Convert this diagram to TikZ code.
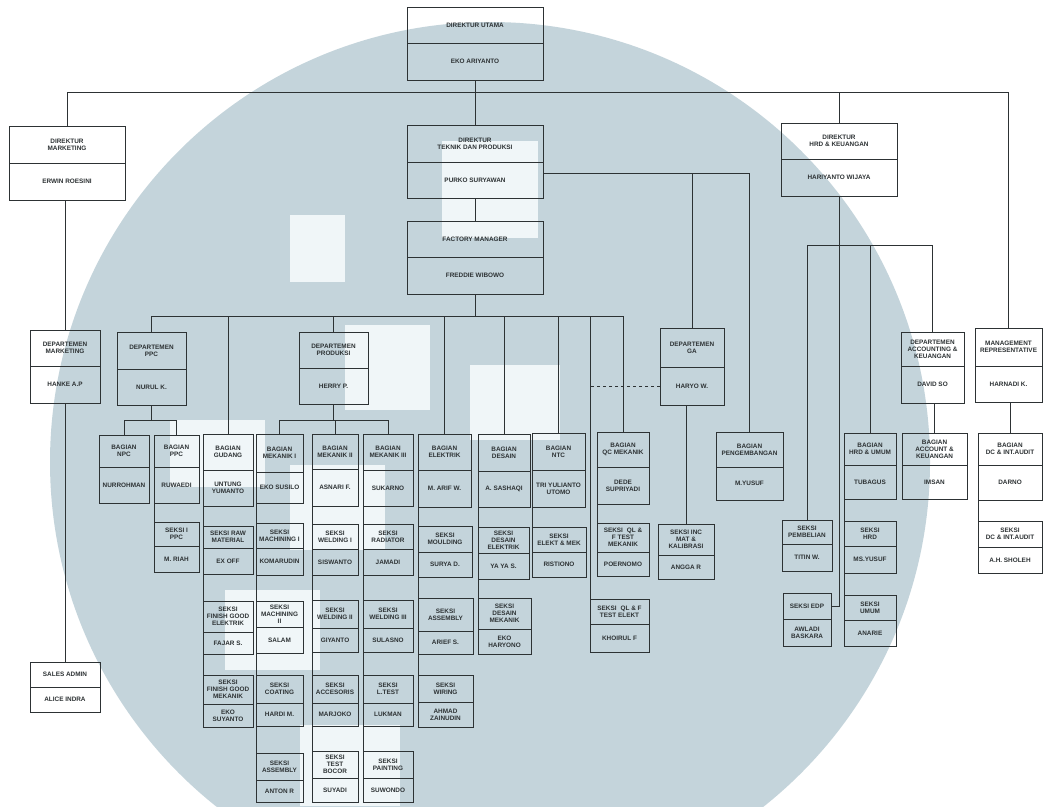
\documentclass[tikz,border=0pt]{standalone}
\usepackage{fontspec}
\newfontfamily\orgfont{Liberation Sans}
\usetikzlibrary{positioning}
\definecolor{wmblue}{RGB}{196,212,219}
\definecolor{wmlight}{RGB}{240,246,248}
\definecolor{ink}{RGB}{45,50,52}
\tikzset{
  jab/.style={draw=ink,line width=0.6pt,anchor=north west,outer sep=0pt,inner sep=1pt,align=center,text=ink,font=\orgfont\bfseries\fontsize{6.4}{7.1}\selectfont},
  nama/.style={draw=ink,line width=0.6pt,outer sep=0pt,inner sep=1pt,align=center,text=ink,font=\orgfont\bfseries\fontsize{6.4}{7.1}\selectfont},
  link/.style={draw=ink,line width=0.6pt}
}

\begin{document}
\begin{tikzpicture}[x=1pt,y=-1pt]
  \useasboundingbox (0,0) rectangle (1044,806);
  % watermark in the back
  \begin{scope}
    \clip (0,0) rectangle (1044,806);
    \fill[white] (0,0) rectangle (1044,806);
    \fill[wmblue] (490,462) circle (440pt);
    \fill[wmlight] (290,215) rectangle (345,282);
    \fill[wmlight] (442,141) rectangle (538,238);
    \fill[wmlight] (345,325) rectangle (430,410);
    \fill[wmlight] (470,365) rectangle (560,440);
    \fill[wmlight] (170,420) rectangle (265,487);
    \fill[wmlight] (290,465) rectangle (385,550);
    \fill[wmlight] (225,590) rectangle (320,670);
    \fill[wmlight] (300,725) rectangle (400,806);
  \end{scope}

  % direksi
  \node[jab, minimum width=136pt, minimum height=36pt] (du) at (407,7) {DIREKTUR UTAMA};
  \node[nama, minimum width=136pt, minimum height=37pt, below=0pt of du] (du-nm) {EKO ARIYANTO};
  \node[jab, minimum width=116pt, minimum height=37pt] (dmkt) at (9,126) {DIREKTUR\\MARKETING};
  \node[nama, minimum width=116pt, minimum height=37pt, below=0pt of dmkt] (dmkt-nm) {ERWIN ROESINI};
  \node[jab, minimum width=136pt, minimum height=37pt] (dtek) at (407,125) {DIREKTUR\\TEKNIK DAN PRODUKSI};
  \node[nama, minimum width=136pt, minimum height=36pt, below=0pt of dtek] (dtek-nm) {PURKO SURYAWAN};
  \node[jab, minimum width=136pt, minimum height=36pt] (fm) at (407,221) {FACTORY MANAGER};
  \node[nama, minimum width=136pt, minimum height=37pt, below=0pt of fm] (fm-nm) {FREDDIE WIBOWO};
  \node[jab, minimum width=116pt, minimum height=36pt] (dhrd) at (781,123) {DIREKTUR\\HRD \& KEUANGAN};
  \node[nama, minimum width=116pt, minimum height=37pt, below=0pt of dhrd] (dhrd-nm) {HARIYANTO WIJAYA};

  % departemen
  \node[jab, minimum width=70pt, minimum height=36pt] (dpm) at (30,330) {DEPARTEMEN\\MARKETING};
  \node[nama, minimum width=70pt, minimum height=37pt, below=0pt of dpm] (dpm-nm) {HANKE A.P};
  \node[jab, minimum width=69pt, minimum height=37pt] (dppc) at (117,332) {DEPARTEMEN\\PPC};
  \node[nama, minimum width=69pt, minimum height=36pt, below=0pt of dppc] (dppc-nm) {NURUL K.};
  \node[jab, minimum width=69pt, minimum height=36pt] (dprod) at (299,332) {DEPARTEMEN\\PRODUKSI};
  \node[nama, minimum width=69pt, minimum height=36pt, below=0pt of dprod] (dprod-nm) {HERRY P.};
  \node[jab, minimum width=64pt, minimum height=39pt] (dga) at (660,328) {DEPARTEMEN\\GA};
  \node[nama, minimum width=64pt, minimum height=38pt, below=0pt of dga] (dga-nm) {HARYO W.};
  \node[jab, minimum width=63pt, minimum height=34pt] (dacc) at (901,332) {DEPARTEMEN\\ACCOUNTING \&\\KEUANGAN};
  \node[nama, minimum width=63pt, minimum height=37pt, below=0pt of dacc] (dacc-nm) {DAVID SO};
  \node[jab, minimum width=67pt, minimum height=38pt] (mr) at (975,328) {MANAGEMENT\\REPRESENTATIVE};
  \node[nama, minimum width=67pt, minimum height=36pt, below=0pt of mr] (mr-nm) {HARNADI K.};

  % bagian & seksi
  \node[jab, minimum width=70pt, minimum height=25pt] (sales) at (30,662) {SALES ADMIN};
  \node[nama, minimum width=70pt, minimum height=25pt, below=0pt of sales] (sales-nm) {ALICE INDRA};

  \node[jab, minimum width=50pt, minimum height=32pt] (npc) at (99,435) {BAGIAN\\NPC};
  \node[nama, minimum width=50pt, minimum height=36pt, below=0pt of npc] (npc-nm) {NURROHMAN};
  \node[jab, minimum width=45pt, minimum height=32pt] (bppc) at (154,435) {BAGIAN\\PPC};
  \node[nama, minimum width=45pt, minimum height=36pt, below=0pt of bppc] (bppc-nm) {RUWAEDI};
  \node[jab, minimum width=45pt, minimum height=24pt] (sppc) at (154,522) {SEKSI I\\PPC};
  \node[nama, minimum width=45pt, minimum height=26pt, below=0pt of sppc] (sppc-nm) {M. RIAH};

  \node[jab, minimum width=50pt, minimum height=36pt] (gud) at (203,434) {BAGIAN\\GUDANG};
  \node[nama, minimum width=50pt, minimum height=36pt, below=0pt of gud] (gud-nm) {UNTUNG\\YUMANTO};
  \node[jab, minimum width=50pt, minimum height=22pt] (raw) at (203,526) {SEKSI RAW\\MATERIAL};
  \node[nama, minimum width=50pt, minimum height=26pt, below=0pt of raw] (raw-nm) {EX OFF};
  \node[jab, minimum width=50pt, minimum height=31pt] (fge) at (203,601) {SEKSI\\FINISH GOOD\\ELEKTRIK};
  \node[nama, minimum width=50pt, minimum height=22pt, below=0pt of fge] (fge-nm) {FAJAR S.};
  \node[jab, minimum width=50pt, minimum height=29pt] (fgm) at (203,675) {SEKSI\\FINISH GOOD\\MEKANIK};
  \node[nama, minimum width=50pt, minimum height=23pt, below=0pt of fgm] (fgm-nm) {EKO\\SUYANTO};

  \node[jab, minimum width=47pt, minimum height=38pt] (mek1) at (256,434) {BAGIAN\\MEKANIK I};
  \node[nama, minimum width=47pt, minimum height=31pt, below=0pt of mek1] (mek1-nm) {EKO SUSILO};
  \node[jab, minimum width=47pt, minimum height=25pt] (mach1) at (256,523) {SEKSI\\MACHINING I};
  \node[nama, minimum width=47pt, minimum height=27pt, below=0pt of mach1] (mach1-nm) {KOMARUDIN};
  \node[jab, minimum width=47pt, minimum height=26pt] (mach2) at (256,601) {SEKSI\\MACHINING\\II};
  \node[nama, minimum width=47pt, minimum height=26pt, below=0pt of mach2] (mach2-nm) {SALAM};
  \node[jab, minimum width=47pt, minimum height=28pt] (coat) at (256,675) {SEKSI\\COATING};
  \node[nama, minimum width=47pt, minimum height=23pt, below=0pt of coat] (coat-nm) {HARDI M.};
  \node[jab, minimum width=47pt, minimum height=27pt] (assy) at (256,753) {SEKSI\\ASSEMBLY};
  \node[nama, minimum width=47pt, minimum height=22pt, below=0pt of assy] (assy-nm) {ANTON R};

  \node[jab, minimum width=46pt, minimum height=35pt] (mek2) at (312,434) {BAGIAN\\MEKANIK II};
  \node[nama, minimum width=46pt, minimum height=37pt, below=0pt of mek2] (mek2-nm) {ASNARI F.};
  \node[jab, minimum width=46pt, minimum height=25pt] (weld1) at (312,524) {SEKSI\\WELDING I};
  \node[nama, minimum width=46pt, minimum height=26pt, below=0pt of weld1] (weld1-nm) {SISWANTO};
  \node[jab, minimum width=46pt, minimum height=28pt] (weld2) at (312,600) {SEKSI\\WELDING II};
  \node[nama, minimum width=46pt, minimum height=24pt, below=0pt of weld2] (weld2-nm) {GIYANTO};
  \node[jab, minimum width=46pt, minimum height=28pt] (acc) at (312,675) {SEKSI\\ACCESORIS};
  \node[nama, minimum width=46pt, minimum height=23pt, below=0pt of acc] (acc-nm) {MARJOKO};
  \node[jab, minimum width=46pt, minimum height=27pt] (bocor) at (312,751) {SEKSI\\TEST\\BOCOR};
  \node[nama, minimum width=46pt, minimum height=24pt, below=0pt of bocor] (bocor-nm) {SUYADI};

  \node[jab, minimum width=50pt, minimum height=36pt] (mek3) at (363,434) {BAGIAN\\MEKANIK III};
  \node[nama, minimum width=50pt, minimum height=36pt, below=0pt of mek3] (mek3-nm) {SUKARNO};
  \node[jab, minimum width=50pt, minimum height=25pt] (rad) at (363,524) {SEKSI\\RADIATOR};
  \node[nama, minimum width=50pt, minimum height=26pt, below=0pt of rad] (rad-nm) {JAMADI};
  \node[jab, minimum width=50pt, minimum height=28pt] (weld3) at (363,600) {SEKSI\\WELDING III};
  \node[nama, minimum width=50pt, minimum height=24pt, below=0pt of weld3] (weld3-nm) {SULASNO};
  \node[jab, minimum width=50pt, minimum height=28pt] (ltest) at (363,675) {SEKSI\\L.TEST};
  \node[nama, minimum width=50pt, minimum height=23pt, below=0pt of ltest] (ltest-nm) {LUKMAN};
  \node[jab, minimum width=50pt, minimum height=27pt] (paint) at (363,751) {SEKSI\\PAINTING};
  \node[nama, minimum width=50pt, minimum height=24pt, below=0pt of paint] (paint-nm) {SUWONDO};

  \node[jab, minimum width=53pt, minimum height=36pt] (elek) at (418,434) {BAGIAN\\ELEKTRIK};
  \node[nama, minimum width=53pt, minimum height=37pt, below=0pt of elek] (elek-nm) {M. ARIF W.};
  \node[jab, minimum width=54pt, minimum height=26pt] (mould) at (418,526) {SEKSI\\MOULDING};
  \node[nama, minimum width=54pt, minimum height=25pt, below=0pt of mould] (mould-nm) {SURYA D.};
  \node[jab, minimum width=55pt, minimum height=33pt] (asse) at (418,598) {SEKSI\\ASSEMBLY};
  \node[nama, minimum width=55pt, minimum height=23pt, below=0pt of asse] (asse-nm) {ARIEF S.};
  \node[jab, minimum width=55pt, minimum height=27pt] (wir) at (418,675) {SEKSI\\WIRING};
  \node[nama, minimum width=55pt, minimum height=25pt, below=0pt of wir] (wir-nm) {AHMAD\\ZAINUDIN};

  \node[jab, minimum width=52pt, minimum height=37pt] (des) at (478,434) {BAGIAN\\DESAIN};
  \node[nama, minimum width=52pt, minimum height=36pt, below=0pt of des] (des-nm) {A. SASHAQI};
  \node[jab, minimum width=51pt, minimum height=26pt] (dese) at (478,527) {SEKSI\\DESAIN\\ELEKTRIK};
  \node[nama, minimum width=51pt, minimum height=26pt, below=0pt of dese] (dese-nm) {YA YA S.};
  \node[jab, minimum width=53pt, minimum height=31pt] (desm) at (478,598) {SEKSI\\DESAIN\\MEKANIK};
  \node[nama, minimum width=53pt, minimum height=25pt, below=0pt of desm] (desm-nm) {EKO\\HARYONO};

  \node[jab, minimum width=53pt, minimum height=37pt] (ntc) at (532,433) {BAGIAN\\NTC};
  \node[nama, minimum width=53pt, minimum height=37pt, below=0pt of ntc] (ntc-nm) {TRI YULIANTO\\UTOMO};
  \node[jab, minimum width=54pt, minimum height=25pt] (elm) at (532,527) {SEKSI\\ELEKT \& MEK};
  \node[nama, minimum width=54pt, minimum height=25pt, below=0pt of elm] (elm-nm) {RISTIONO};

  \node[jab, minimum width=52pt, minimum height=35pt] (qcm) at (597,432) {BAGIAN\\QC MEKANIK};
  \node[nama, minimum width=52pt, minimum height=37pt, below=0pt of qcm] (qcm-nm) {DEDE\\SUPRIYADI};
  \node[jab, minimum width=52pt, minimum height=29pt] (qlfm) at (597,523) {SEKSI\hspace{4pt}QL \&\\F TEST\\MEKANIK};
  \node[nama, minimum width=52pt, minimum height=24pt, below=0pt of qlfm] (qlfm-nm) {POERNOMO};
  \node[jab, minimum width=59pt, minimum height=25pt] (qlfe) at (590,599) {SEKSI\hspace{4pt}QL \& F\\TEST ELEKT};
  \node[nama, minimum width=59pt, minimum height=28pt, below=0pt of qlfe] (qlfe-nm) {KHOIRUL F};

  \node[jab, minimum width=56pt, minimum height=31pt] (inc) at (658,524) {SEKSI INC\\MAT \&\\KALIBRASI};
  \node[nama, minimum width=56pt, minimum height=24pt, below=0pt of inc] (inc-nm) {ANGGA R};
  \node[jab, minimum width=67pt, minimum height=35pt] (peng) at (716,432) {BAGIAN\\PENGEMBANGAN};
  \node[nama, minimum width=67pt, minimum height=33pt, below=0pt of peng] (peng-nm) {M.YUSUF};

  \node[jab, minimum width=50pt, minimum height=24pt] (pemb) at (782,520) {SEKSI\\PEMBELIAN};
  \node[nama, minimum width=50pt, minimum height=27pt, below=0pt of pemb] (pemb-nm) {TITIN W.};
  \node[jab, minimum width=48pt, minimum height=26pt] (edp) at (783,593) {SEKSI EDP};
  \node[nama, minimum width=48pt, minimum height=27pt, below=0pt of edp] (edp-nm) {AWLADI\\BASKARA};

  \node[jab, minimum width=52pt, minimum height=32pt] (hu) at (844,433) {BAGIAN\\HRD \& UMUM};
  \node[nama, minimum width=52pt, minimum height=34pt, below=0pt of hu] (hu-nm) {TUBAGUS};
  \node[jab, minimum width=52pt, minimum height=25pt] (shrd) at (844,521) {SEKSI\\HRD};
  \node[nama, minimum width=52pt, minimum height=27pt, below=0pt of shrd] (shrd-nm) {MS.YUSUF};
  \node[jab, minimum width=52pt, minimum height=25pt] (sumum) at (844,595) {SEKSI\\UMUM};
  \node[nama, minimum width=52pt, minimum height=26pt, below=0pt of sumum] (sumum-nm) {ANARIE};

  \node[jab, minimum width=65pt, minimum height=32pt] (bacc) at (902,433) {BAGIAN\\ACCOUNT \&\\KEUANGAN};
  \node[nama, minimum width=65pt, minimum height=34pt, below=0pt of bacc] (bacc-nm) {IMSAN};
  \node[jab, minimum width=64pt, minimum height=32pt] (bdc) at (978,433) {BAGIAN\\DC \& INT.AUDIT};
  \node[nama, minimum width=64pt, minimum height=35pt, below=0pt of bdc] (bdc-nm) {DARNO};
  \node[jab, minimum width=64pt, minimum height=26pt] (sdc) at (978,521) {SEKSI\\DC \& INT.AUDIT};
  \node[nama, minimum width=64pt, minimum height=26pt, below=0pt of sdc] (sdc-nm) {A.H. SHOLEH};

  % garis
  \coordinate (top bus) at (0,92);
  \coordinate (tek bus) at (0,173);
  \coordinate (hrd bus) at (0,245);
  \coordinate (fm bus) at (0,316);
  \coordinate (sub bus) at (0,420);

  \draw[link] (du-nm.south) -- (du-nm.south |- top bus);
  \draw[link] (dmkt.north) -- (dmkt.north |- top bus) -- (mr.north |- top bus) -- (mr.north);
  \draw[link] (dtek.north) -- (dtek.north |- top bus);
  \draw[link] (dhrd.north) -- (dhrd.north |- top bus);

  \draw[link] (dpm.north) -- (dpm.north |- dmkt-nm.south);
  \draw[link] (dpm-nm.south) -- (sales.north);

  \draw[link] (dtek-nm.south) -- (fm.north);
  \draw[link] (dtek-nm.east |- tek bus) -- (peng.north |- tek bus) -- (peng.north);
  \draw[link] (dga.north) -- (dga.north |- tek bus);
  \draw[link] (inc.north) -- (inc.north |- dga-nm.south);
  \draw[link, dashed] (dga-nm.west) -- (dga-nm.west -| qlfe.north west);

  \draw[link] (fm-nm.south) -- (fm-nm.south |- fm bus);
  \draw[link] (dppc.north) -- (dppc.north |- fm bus) -- (qcm.north |- fm bus) -- (qcm.north);
  \foreach \lo in {gud,dprod,elek,des,ntc}
    \draw[link] (\lo.north) -- (\lo.north |- fm bus);
  \draw[link] (qlfe.north west) -- (qlfe.north west |- fm bus);

  \draw[link] (dppc-nm.south) -- (dppc-nm.south |- sub bus);
  \draw[link] (npc.north) |- (bppc.north |- sub bus) -- (bppc.north);
  \draw[link] (dprod-nm.south) -- (dprod-nm.south |- sub bus);
  \draw[link] (mek1.north) |- (mek3.north |- sub bus) -- (mek3.north);
  \draw[link] (mek2.north) -- (mek2.north |- sub bus);

  \draw[link] (pemb.north) -- (pemb.north |- hrd bus) -- (dacc.north |- hrd bus) -- (dacc.north);
  \draw[link] (edp.east) -| (dhrd-nm.south);
  \draw[link] (hu.north) -- (hu.north |- hrd bus);
  \draw[link] (bacc.north) -- (bacc.north |- dacc-nm.south);
  \draw[link] (bdc.north) -- (bdc.north |- mr-nm.south);

  \foreach \hi/\lo in {bppc/sppc, gud/raw, raw/fge, fge/fgm, mek1/mach1, mach1/mach2, mach2/coat, coat/assy,
      mek2/weld1, weld1/weld2, weld2/acc, acc/bocor, mek3/rad, rad/weld3, weld3/ltest, ltest/paint,
      elek/mould, mould/asse, asse/wir, des/dese, dese/desm, ntc/elm, qcm/qlfm, hu/shrd, shrd/sumum, bdc/sdc}
    \draw[link] (\hi-nm.south west) -- (\lo.north west);
\end{tikzpicture}
\end{document}
